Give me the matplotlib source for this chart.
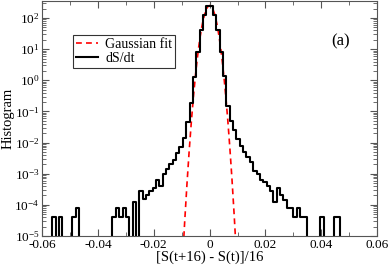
import numpy as np
import matplotlib
matplotlib.use("Agg")
import matplotlib.pyplot as plt
from matplotlib.ticker import LogLocator, MultipleLocator, FuncFormatter, NullFormatter

plt.rcParams['font.family'] = ['Liberation Serif', 'DejaVu Serif']
plt.rcParams['mathtext.fontset'] = 'custom'
plt.rcParams['mathtext.rm'] = 'Liberation Serif'
plt.rcParams['mathtext.it'] = 'Liberation Serif:italic'
plt.rcParams['axes.unicode_minus'] = False

# histogram of dS/dt: 100 bins of width 0.0012 from -0.06 to 0.06 (normalised density)
bin_edges_lo = -0.06
bin_width = 0.0012
hist_left = [
    0, 0, 0, 4e-5, 0, 4e-5, 0, 0, 0, 4e-5,
    8e-5, 0, 0, 0, 0, 0, 0, 0, 0, 0,
    0, 4e-5, 8e-5, 4e-5, 8e-5, 4e-5, 0, 1.2e-4, 0, 2.8e-4,
    1.5e-4, 2e-4, 2.8e-4, 3.5e-4, 6.3e-4, 4e-4, 1.0e-3, 1.4e-3, 2.0e-3, 2.8e-3,
    4.5e-3, 7e-3, 1.4e-2, 4.5e-2, 0.18, 1.25, 8, 40, 125, 240,
]
hist_right = [
    250, 125, 40, 8, 1.4, 0.15, 0.05, 0.025, 0.0126, 0.008,
    0.005, 0.0035, 0.0024, 0.00126, 0.001, 6.3e-4, 5.6e-4, 4e-4, 2.8e-4, 1.26e-4,
    3.5e-4, 2e-4, 1.4e-4, 8e-5, 8e-5, 4e-5, 8e-5, 4e-5, 4e-5, 0,
    0, 0, 0, 4e-5, 0, 0, 0, 4e-5, 4e-5, 0,
    0, 0, 0, 0, 0, 0, 0, 0, 0, 0,
]

# gaussian fit parameters
gauss_amp = 250.0
gauss_mu = 0.0
gauss_sigma = 0.00158

x_ticks = [-0.06, -0.04, -0.02, 0, 0.02, 0.04, 0.06]

hist = np.array(hist_left + hist_right, dtype=float)
edges = bin_edges_lo + bin_width * np.arange(len(hist) + 1)
hist_plot = np.where(hist > 0, hist, 1e-8)

xg = np.linspace(-0.012, 0.012, 600)
yg = gauss_amp * np.exp(-(xg - gauss_mu) ** 2 / (2 * gauss_sigma ** 2))

fig = plt.figure(figsize=(3.9, 2.66), dpi=100)
ax = fig.add_axes([0.108, 0.113, 0.859, 0.883])

ax.plot(xg, yg, color='#ff0000', lw=1.2, linestyle=(0, (3.5, 2.5)), label='Gaussian fit')
ax.step(edges, np.append(hist_plot, hist_plot[-1]), where='post', color='black', lw=1.5,
        label='dS/dt')

ax.set_yscale('log')
ax.set_xlim(-0.06, 0.06)
ax.set_ylim(1e-5, 350)

ax.set_xticks(x_ticks)
ax.xaxis.set_major_formatter(FuncFormatter(lambda v, p: '%g' % round(v, 4)))
ax.xaxis.set_minor_locator(MultipleLocator(0.01))
ax.yaxis.set_major_locator(LogLocator(base=10, numticks=20))
ax.yaxis.set_minor_locator(LogLocator(base=10, subs=np.arange(2, 10), numticks=20))
ax.yaxis.set_minor_formatter(NullFormatter())

ax.tick_params(which='both', direction='in', top=True, right=True, labelsize=9.5, color='#555555')
ax.tick_params(which='major', length=5, width=0.8, pad=2)
ax.tick_params(which='minor', length=3, width=0.6)
for s in ax.spines.values():
    s.set_linewidth(0.8)
    s.set_color('#555555')

ax.set_xlabel('[S(t+16) - S(t)]/16', fontsize=10.5, labelpad=0)
ax.set_ylabel('Histogram', fontsize=10.5, labelpad=0)

ax.text(0.89, 0.83, '(a)', transform=ax.transAxes, fontsize=12, ha='center', va='center')

leg = ax.legend(loc='upper left', bbox_to_anchor=(0.093, 0.855), fontsize=10, frameon=True,
                fancybox=False, edgecolor='black', handlelength=1.6, handletextpad=0.5,
                borderpad=0.2, labelspacing=0.1, borderaxespad=0)
leg.get_frame().set_linewidth(0.8)

fig.savefig('out.png', dpi=100)
